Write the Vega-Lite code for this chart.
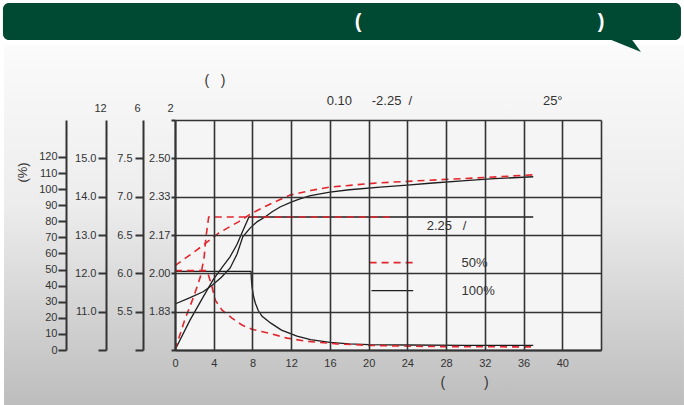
{
  "$schema": "https://vega.github.io/schema/vega-lite/v6.json",
  "width": 426,
  "height": 230,
  "autosize": {"type": "none"},
  "padding": {"left": 175, "top": 120, "right": 83, "bottom": 55},
  "background": "#ffffff",
  "config": {
    "font": "Liberation Sans",
    "view": {"stroke": null},
    "axis": {
      "domainColor": "#333333", "domainWidth": 2,
      "tickColor": "#333333", "tickWidth": 2,
      "gridColor": "#333333", "gridWidth": 1.6, "gridOpacity": 1,
      "labelColor": "#333333", "labelFontSize": 11, "labelFont": "Liberation Sans",
      "titleFont": "Liberation Sans", "titleColor": "#333333", "titleFontWeight": "normal", "titleFontSize": 11,
      "labelFlush": false, "labelOverlap": false, "labelBound": false, "tickCount": 100
    }
  },
  "datasets": {
    "panel": [{"x0": -17.66, "x1": 52.57, "y0": -1.435, "y1": 7.957}],
    "banner": [{"x0": -17.77, "x1": 52.26, "y0": 8.087, "y1": 9.052}],
    "tail": [{"x": 46.17, "y": 7.93}],
    "plot": [{"x0": 0, "x1": 44, "y0": 0, "y1": 6}],
    "lines": [
      {"c": "k", "s": "step", "x": 0, "y": 2.05},
      {"c": "k", "s": "step", "x": 7.85, "y": 2.05},
      {"c": "k", "s": "step", "x": 7.88, "y": 1.88},
      {"c": "k", "s": "step", "x": 7.95, "y": 1.65},
      {"c": "k", "s": "step", "x": 8.1, "y": 1.42},
      {"c": "k", "s": "step", "x": 8.3, "y": 1.22},
      {"c": "k", "s": "step", "x": 8.6, "y": 1.03},
      {"c": "k", "s": "step", "x": 9.0, "y": 0.88},
      {"c": "k", "s": "step", "x": 9.9, "y": 0.7},
      {"c": "k", "s": "step", "x": 11.0, "y": 0.52},
      {"c": "k", "s": "step", "x": 12.6, "y": 0.36},
      {"c": "k", "s": "step", "x": 14.0, "y": 0.27},
      {"c": "k", "s": "step", "x": 16.0, "y": 0.2},
      {"c": "k", "s": "step", "x": 18.0, "y": 0.16},
      {"c": "k", "s": "step", "x": 20.0, "y": 0.14},
      {"c": "k", "s": "step", "x": 24.0, "y": 0.13},
      {"c": "k", "s": "step", "x": 30.0, "y": 0.12},
      {"c": "k", "s": "step", "x": 37.0, "y": 0.12},
      {"c": "k", "s": "rise", "x": 0, "y": 0},
      {"c": "k", "s": "rise", "x": 1.55, "y": 0.78},
      {"c": "k", "s": "rise", "x": 2.9, "y": 1.38},
      {"c": "k", "s": "rise", "x": 3.93, "y": 1.83},
      {"c": "k", "s": "rise", "x": 5.0, "y": 2.2},
      {"c": "k", "s": "rise", "x": 5.68, "y": 2.43},
      {"c": "k", "s": "rise", "x": 6.4, "y": 2.75},
      {"c": "k", "s": "rise", "x": 7.02, "y": 3.12},
      {"c": "k", "s": "rise", "x": 7.64, "y": 3.47},
      {"c": "k", "s": "rise", "x": 37.0, "y": 3.47},
      {"c": "k", "s": "sat", "x": 0, "y": 1.2},
      {"c": "k", "s": "sat", "x": 1.5, "y": 1.36},
      {"c": "k", "s": "sat", "x": 2.9, "y": 1.52},
      {"c": "k", "s": "sat", "x": 3.9, "y": 1.7},
      {"c": "k", "s": "sat", "x": 4.8, "y": 1.9},
      {"c": "k", "s": "sat", "x": 5.7, "y": 2.14},
      {"c": "k", "s": "sat", "x": 6.4, "y": 2.5},
      {"c": "k", "s": "sat", "x": 7.0, "y": 2.95},
      {"c": "k", "s": "sat", "x": 7.75, "y": 3.18},
      {"c": "k", "s": "sat", "x": 8.5, "y": 3.35},
      {"c": "k", "s": "sat", "x": 9.3, "y": 3.47},
      {"c": "k", "s": "sat", "x": 10.0, "y": 3.6},
      {"c": "k", "s": "sat", "x": 10.85, "y": 3.73},
      {"c": "k", "s": "sat", "x": 12.0, "y": 3.86},
      {"c": "k", "s": "sat", "x": 12.9, "y": 3.94},
      {"c": "k", "s": "sat", "x": 14.0, "y": 4.03},
      {"c": "k", "s": "sat", "x": 16.0, "y": 4.12},
      {"c": "k", "s": "sat", "x": 18.0, "y": 4.18},
      {"c": "k", "s": "sat", "x": 21.2, "y": 4.25},
      {"c": "k", "s": "sat", "x": 24.0, "y": 4.3},
      {"c": "k", "s": "sat", "x": 26.3, "y": 4.35},
      {"c": "k", "s": "sat", "x": 30.0, "y": 4.42},
      {"c": "k", "s": "sat", "x": 33.0, "y": 4.47},
      {"c": "k", "s": "sat", "x": 37.0, "y": 4.52},
      {"c": "k", "s": "leg", "x": 20.3, "y": 1.55},
      {"c": "k", "s": "leg", "x": 24.6, "y": 1.55},
      {"c": "r", "s": "step", "x": 0, "y": 2.07},
      {"c": "r", "s": "step", "x": 3.3, "y": 2.07},
      {"c": "r", "s": "step", "x": 3.55, "y": 1.88},
      {"c": "r", "s": "step", "x": 3.82, "y": 1.65},
      {"c": "r", "s": "step", "x": 4.16, "y": 1.3},
      {"c": "r", "s": "step", "x": 4.86, "y": 1.04},
      {"c": "r", "s": "step", "x": 5.89, "y": 0.83},
      {"c": "r", "s": "step", "x": 6.92, "y": 0.65},
      {"c": "r", "s": "step", "x": 7.95, "y": 0.54},
      {"c": "r", "s": "step", "x": 9.68, "y": 0.44},
      {"c": "r", "s": "step", "x": 11.57, "y": 0.31},
      {"c": "r", "s": "step", "x": 13.5, "y": 0.23},
      {"c": "r", "s": "step", "x": 16.7, "y": 0.16},
      {"c": "r", "s": "step", "x": 20.0, "y": 0.12},
      {"c": "r", "s": "step", "x": 26.3, "y": 0.09},
      {"c": "r", "s": "step", "x": 37.0, "y": 0.08},
      {"c": "r", "s": "rise", "x": 0, "y": 0},
      {"c": "r", "s": "rise", "x": 1.0, "y": 0.78},
      {"c": "r", "s": "rise", "x": 1.93, "y": 1.39},
      {"c": "r", "s": "rise", "x": 2.62, "y": 1.91},
      {"c": "r", "s": "rise", "x": 3.0, "y": 2.4},
      {"c": "r", "s": "rise", "x": 3.2, "y": 2.95},
      {"c": "r", "s": "rise", "x": 3.48, "y": 3.47},
      {"c": "r", "s": "rise", "x": 22.7, "y": 3.47},
      {"c": "r", "s": "sat", "x": 0, "y": 2.2},
      {"c": "r", "s": "sat", "x": 2.27, "y": 2.61},
      {"c": "r", "s": "sat", "x": 4.5, "y": 3.05},
      {"c": "r", "s": "sat", "x": 6.6, "y": 3.35},
      {"c": "r", "s": "sat", "x": 7.95, "y": 3.57},
      {"c": "r", "s": "sat", "x": 10.0, "y": 3.83},
      {"c": "r", "s": "sat", "x": 11.9, "y": 4.04},
      {"c": "r", "s": "sat", "x": 14.0, "y": 4.16},
      {"c": "r", "s": "sat", "x": 16.0, "y": 4.25},
      {"c": "r", "s": "sat", "x": 21.0, "y": 4.36},
      {"c": "r", "s": "sat", "x": 26.3, "y": 4.43},
      {"c": "r", "s": "sat", "x": 32.0, "y": 4.5},
      {"c": "r", "s": "sat", "x": 37.0, "y": 4.57},
      {"c": "r", "s": "leg", "x": 20.1, "y": 2.28},
      {"c": "r", "s": "leg", "x": 24.6, "y": 2.28}
    ],
    "textL": [
      {"x": 15.67, "y": 6.5, "t": "0.10"},
      {"x": 20.32, "y": 6.5, "t": "-2.25\u00a0\u00a0/"},
      {"x": 38.0, "y": 6.5, "t": "25°"},
      {"x": 26.0, "y": 3.24, "t": "2.25\u00a0\u00a0\u00a0/"},
      {"x": 29.6, "y": 2.28, "t": "50%"},
      {"x": 29.6, "y": 1.55, "t": "100%"}
    ],
    "textC": [
      {"x": 4.13, "y": 7.03, "t": "(\u00a0\u00a0\u00a0)"},
      {"x": 29.9, "y": -0.86, "t": "(\u00a0\u00a0\u00a0\u00a0\u00a0\u00a0\u00a0\u00a0\u00a0\u00a0)"}
    ],
    "bannerText": [
      {"x": 18.9, "y": 8.56, "t": "("},
      {"x": 44.0, "y": 8.56, "t": ")"}
    ]
  },
  "layer": [
    {
      "layer": [
        {
          "data": {"name": "panel"},
          "mark": {"type": "rect", "color": {"gradient": "linear", "x1": 0, "y1": 0, "x2": 0, "y2": 1, "stops": [{"offset": 0, "color": "#fbfbfb"}, {"offset": 0.45, "color": "#ececec"}, {"offset": 1, "color": "#bdbdbd"}]}},
          "encoding": {
            "x": {"field": "x0", "type": "quantitative", "scale": {"domain": [0, 44], "nice": false, "zero": false}},
            "x2": {"field": "x1"},
            "y": {"field": "y0", "type": "quantitative", "scale": {"domain": [0, 6], "nice": false, "zero": false}},
            "y2": {"field": "y1"}
          }
        },
        {
          "data": {"name": "banner"},
          "mark": {"type": "rect", "color": "#004a33", "cornerRadius": 6},
          "encoding": {
            "x": {"field": "x0", "type": "quantitative"},
            "x2": {"field": "x1"},
            "y": {"field": "y0", "type": "quantitative"},
            "y2": {"field": "y1"}
          }
        },
        {
          "data": {"name": "tail"},
          "mark": {"type": "point", "shape": "M-0.9,-0.45L0.4,-0.45L0.95,0.3Z", "size": 1600, "filled": true, "color": "#004a33", "opacity": 1, "strokeWidth": 0},
          "encoding": {
            "x": {"field": "x", "type": "quantitative"},
            "y": {"field": "y", "type": "quantitative"}
          }
        },
        {
          "data": {"name": "plot"},
          "mark": {"type": "rect", "color": "#f5f5f5"},
          "encoding": {
            "x": {"field": "x0", "type": "quantitative", "axis": {
              "values": [0, 4, 8, 12, 16, 20, 24, 28, 32, 36, 40, 44],
              "labelExpr": "datum.value == 44 ? '' : format(datum.value, 'd')",
              "grid": true, "ticks": false, "tickSize": 0, "labelPadding": 7, "title": null, "zindex": 1, "tickCount": 100
            }},
            "x2": {"field": "x1"},
            "y": {"field": "y0", "type": "quantitative", "axis": {
              "orient": "left",
              "values": [0, 1, 2, 3, 4, 5, 6],
              "labelExpr": "(datum.value == 0 || datum.value == 6) ? '' : format(5/3 + datum.value/6, '.2f')",
              "grid": true, "tickSize": 4, "labelPadding": 1, "tickCount": 100,
              "title": "2", "titleAngle": 0, "titleX": -5, "titleY": -12, "titleAlign": "center", "titleBaseline": "middle",
              "zindex": 1
            }},
            "y2": {"field": "y1"}
          }
        },
        {
          "data": {"name": "lines"},
          "transform": [{"filter": "datum.c == 'k'"}],
          "mark": {"type": "line", "color": "#1e1e1e", "strokeWidth": 1.3},
          "encoding": {
            "x": {"field": "x", "type": "quantitative"},
            "y": {"field": "y", "type": "quantitative"},
            "detail": {"field": "s"}
          }
        },
        {
          "data": {"name": "lines"},
          "transform": [{"filter": "datum.c == 'r'"}],
          "mark": {"type": "line", "color": "#e5252c", "strokeWidth": 1.6, "strokeDash": [7, 5]},
          "encoding": {
            "x": {"field": "x", "type": "quantitative"},
            "y": {"field": "y", "type": "quantitative"},
            "detail": {"field": "s"}
          }
        },
        {
          "data": {"name": "textL"},
          "mark": {"type": "text", "align": "left", "baseline": "middle", "fontSize": 13, "color": "#333333", "font": "Liberation Sans"},
          "encoding": {
            "x": {"field": "x", "type": "quantitative"},
            "y": {"field": "y", "type": "quantitative"},
            "text": {"field": "t"}
          }
        },
        {
          "data": {"name": "textC"},
          "mark": {"type": "text", "align": "center", "baseline": "middle", "fontSize": 14, "color": "#333333", "font": "Liberation Sans"},
          "encoding": {
            "x": {"field": "x", "type": "quantitative"},
            "y": {"field": "y", "type": "quantitative"},
            "text": {"field": "t"}
          }
        },
        {
          "data": {"name": "bannerText"},
          "mark": {"type": "text", "align": "center", "baseline": "middle", "fontSize": 20, "fontWeight": "bold", "color": "#ffffff", "font": "Liberation Sans"},
          "encoding": {
            "x": {"field": "x", "type": "quantitative"},
            "y": {"field": "y", "type": "quantitative"},
            "text": {"field": "t"}
          }
        }
      ]
    },
    {
      "data": {"values": [{"p": 0}, {"p": 120}]},
      "mark": {"type": "point", "opacity": 0},
      "encoding": {
        "y": {"field": "p", "type": "quantitative", "scale": {"domain": [0, 143], "nice": false, "zero": false}, "axis": {
          "orient": "left", "offset": 109, "tickCount": 100,
          "values": [0, 10, 20, 30, 40, 50, 60, 70, 80, 90, 100, 110, 120],
          "labelExpr": "format(datum.value, 'd')",
          "grid": false, "tickSize": 8, "labelPadding": 1,
          "title": "(%)", "titleAngle": -90, "titleX": -44, "titleY": 52, "titleAlign": "center", "titleBaseline": "middle", "titleFontSize": 13,
          "zindex": 1
        }}
      }
    },
    {
      "data": {"values": [{"p": 10}, {"p": 16}]},
      "mark": {"type": "point", "opacity": 0},
      "encoding": {
        "y": {"field": "p", "type": "quantitative", "scale": {"domain": [10, 16], "nice": false, "zero": false}, "axis": {
          "orient": "left", "offset": 69, "tickCount": 100,
          "values": [10, 11, 12, 13, 14, 15],
          "labelExpr": "datum.value == 10 ? '' : format(datum.value, '.1f')",
          "grid": false, "tickSize": 8, "labelPadding": 2,
          "title": "12", "titleAngle": 0, "titleX": -6, "titleY": -12, "titleAlign": "center", "titleBaseline": "middle",
          "zindex": 1
        }}
      }
    },
    {
      "data": {"values": [{"p": 5}, {"p": 8}]},
      "mark": {"type": "point", "opacity": 0},
      "encoding": {
        "y": {"field": "p", "type": "quantitative", "scale": {"domain": [5, 8], "nice": false, "zero": false}, "axis": {
          "orient": "left", "offset": 32, "tickCount": 100,
          "values": [5, 5.5, 6, 6.5, 7, 7.5],
          "labelExpr": "datum.value == 5 ? '' : format(datum.value, '.1f')",
          "grid": false, "tickSize": 8, "labelPadding": 3,
          "title": "6", "titleAngle": 0, "titleX": -6, "titleY": -12, "titleAlign": "center", "titleBaseline": "middle",
          "zindex": 1
        }}
      }
    }
  ],
  "resolve": {"scale": {"y": "independent"}}
}
